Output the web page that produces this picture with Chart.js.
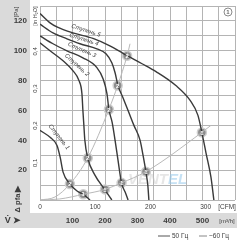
<!DOCTYPE html>
<html lang="ru">
<head>
  <meta charset="UTF-8" />
  <title>Fan curve</title>
  <script src="https://cdn.jsdelivr.net/npm/chart.js"></script>
  <style>
    body { margin: 0; padding: 0; background: #fff; }
    #wrap { position: relative; width: 244px; height: 250px; }
  </style>
</head>
<body>
  <div id="wrap"><canvas id="fanChart"></canvas></div>

  <script>
    // ---- data: [flow m³/h, static pressure Pa] ----
    const stage5 = [[0,125],[31,118.7],[52,116],[101,112],[163,108.3],[215,103.3],[252,98.7],[268,96.7],
                    [314,91.3],[357,86],[418,76.7],[462,66.7],[486,56.7],[498,45.3],[511,31.3],[526,15.3],[535,0]];
    const stage4 = [[0,117.8],[40,112],[83,108],[123,104.7],[175,101.3],[203,98],[221,92],[231,85.3],
                    [240,76.7],[255,68.7],[271,60],[289,50],[308,40],[317,30],[326,18.7],[332,9.3],[335,0]];
    const stage3 = [[0,110],[40,104.7],[83,100],[132,95.3],[175,88.7],[194,81.3],[206,71.3],[212,60.7],
                    [222,52],[231,40],[240,26.7],[251,11.3],[262,5.3],[271,0]];
    const stage2 = [[0,105.3],[31,100],[71,93.3],[101,86.7],[120,80],[129,71.3],[132,60],[135,50],
                    [138,40],[147,28],[169,16.7],[200,6.7],[221,0]];
    const stage1 = [[0,46.7],[31,42],[52,36.7],[62,28.7],[71,18.7],[92,10.7],[114,6],[133,3.8],[154,0]];

    // system (resistance) lines
    const system2 = [[0,0],[46,2],[92,10.7],[147,28.2],[212,60.7],[239,76.7],[268,96.7],[277,104.7]];
    const system1 = [[0,0],[61,0.7],[133,3.8],[200,7.1],[251,11.5],[326,19],[498,45.3],[526,50]];

    // operating points
    const points2 = [[268,96.7],[239,76.7],[212,60.7],[147,28.2],[92,10.7]];
    const points1 = [[498,45.3],[326,19],[251,11.5],[200,7.1],[133,3.8]];

    // tick labels
    const paTicks = [20, 40, 60, 80, 100, 120];
    const inH2OTicks = [0.1, 0.2, 0.3, 0.4];
    const m3hTicks = [100, 200, 300, 400, 500];
    const cfmTicks = [0, 100, 200, 300];

    const PA_PER_INH2O = 249.09;
    const M3H_PER_CFM = 1.699;

    const stageNames = ['Ступень 5', 'Ступень 4', 'Ступень 3', 'Ступень 2', 'Ступень 1'];

    const xy = arr => arr.map(p => ({ x: p[0], y: p[1] }));

    function curve(data, color, width) {
      return {
        data: xy(data), showLine: true, borderColor: color, borderWidth: width,
        pointRadius: 0, cubicInterpolationMode: 'monotone', fill: false
      };
    }
    function markers(data, digit) {
      return {
        data: xy(data), showLine: false, pointRadius: 4.5, pointBackgroundColor: '#8d8d8d',
        pointBorderColor: '#cfcfcf', pointBorderWidth: 1.5, digit: digit
      };
    }

    // ---- drawing helpers for the frame, labels and digits ----
    const frame = {
      id: 'frame',
      beforeDraw(chart) {
        const { ctx, chartArea: a } = chart;
        ctx.save();
        ctx.fillStyle = '#dadada';
        ctx.fillRect(0, 0, 30, 228);
        ctx.fillRect(0, 213, 237, 15);
        ctx.fillStyle = '#fff';
        ctx.fillRect(a.left, a.top, a.width, a.height);
        ctx.restore();
      },
      beforeDatasetsDraw(chart) {
        const { ctx } = chart;
        ctx.save();
        ctx.font = 'italic bold 15px "Liberation Sans"';
        ctx.textBaseline = 'alphabetic';
        ctx.fillStyle = 'rgba(200,200,200,0.45)';
        ctx.fillText('VENT', 128, 184);
        const w = ctx.measureText('VENT').width;
        ctx.fillStyle = 'rgba(150,200,235,0.55)';
        ctx.fillText('EL', 128 + w, 184);
        ctx.restore();
      },
      afterDraw(chart) {
        const { ctx, scales: { x, y } } = chart;
        ctx.save();
        ctx.fillStyle = '#3c3c3c';

        // pressure labels in the grey band
        ctx.font = 'bold 8px "Liberation Sans"';
        ctx.textAlign = 'right';
        ctx.textBaseline = 'middle';
        paTicks.forEach(v => ctx.fillText(String(v), 27, y.getPixelForValue(v)));

        // flow labels in the grey band
        ctx.textAlign = 'center';
        m3hTicks.forEach(v => ctx.fillText(String(v), x.getPixelForValue(v), 221));
        ctx.font = '6px "Liberation Sans"';
        ctx.fillText('[m³/h]', 227, 221);
        ctx.font = 'bold 9px "Liberation Sans"';
        ctx.fillText('V̇ ➤', 13, 221);

        // CFM labels under the plot
        ctx.font = '6.5px "Liberation Sans"';
        cfmTicks.forEach(v => ctx.fillText(String(v), x.getPixelForValue(v * M3H_PER_CFM), 207));
        ctx.fillText('[CFM]', 227, 207);

        // rotated labels
        const rot = (txt, px, py, font) => {
          ctx.save();
          ctx.translate(px, py);
          ctx.rotate(-Math.PI / 2);
          ctx.font = font;
          ctx.textAlign = 'center';
          ctx.textBaseline = 'middle';
          ctx.fillText(txt, 0, 0);
          ctx.restore();
        };
        inH2OTicks.forEach(v =>
          rot(String(v).replace('.', ','), 35, y.getPixelForValue(v * PA_PER_INH2O), '6px "Liberation Sans"'));
        rot('[in H₂O]', 35, 16, '5.5px "Liberation Sans"');
        rot('[Pa]', 16, 12, '6px "Liberation Sans"');
        rot('Δ pfa ▶', 18, 199, 'bold 7.5px "Liberation Sans"');

        // stage names along the curves
        const names = [[86, 30.5, 18], [84, 39.5, 18], [82, 50, 24], [77, 65, 42], [59, 137, 52]];
        ctx.font = 'italic 6px "Liberation Sans"';
        names.forEach((n, i) => {
          ctx.save();
          ctx.translate(n[0], n[1]);
          ctx.rotate(n[2] * Math.PI / 180);
          ctx.textAlign = 'center';
          ctx.textBaseline = 'middle';
          ctx.fillText(stageNames[i], 0, 0);
          ctx.restore();
        });

        // digits inside the operating point markers
        ctx.font = 'bold 6px "Liberation Sans"';
        ctx.fillStyle = '#fff';
        ctx.textAlign = 'center';
        ctx.textBaseline = 'middle';
        chart.data.datasets.forEach((ds, i) => {
          if (!ds.digit) return;
          chart.getDatasetMeta(i).data.forEach(el => ctx.fillText(ds.digit, el.x, el.y + 0.5));
        });

        // circled 1 in the corner
        ctx.strokeStyle = '#8a8a8a';
        ctx.lineWidth = 1;
        ctx.beginPath();
        ctx.arc(228, 12, 4, 0, Math.PI * 2);
        ctx.stroke();
        ctx.fillStyle = '#6a6a6a';
        ctx.fillText('1', 228, 12.5);

        // legend
        ctx.strokeStyle = '#555';
        ctx.beginPath(); ctx.moveTo(158, 236); ctx.lineTo(170, 236); ctx.stroke();
        ctx.strokeStyle = '#888';
        ctx.beginPath(); ctx.moveTo(199, 236); ctx.lineTo(207, 236); ctx.stroke();
        ctx.fillStyle = '#3c3c3c';
        ctx.font = '6.5px "Liberation Sans"';
        ctx.textAlign = 'left';
        ctx.fillText('50 Гц', 172, 236.5);
        ctx.fillText('~60 Гц', 209, 236.5);
        ctx.restore();
      }
    };

    new Chart(document.getElementById('fanChart'), {
      type: 'scatter',
      data: {
        datasets: [
          curve(system2, '#b9b9b9', 1),
          curve(system1, '#b9b9b9', 1),
          curve(stage5, '#3a3a3a', 1.4),
          curve(stage4, '#3a3a3a', 1.4),
          curve(stage3, '#3a3a3a', 1.4),
          curve(stage2, '#3a3a3a', 1.4),
          curve(stage1, '#3a3a3a', 1.4),
          markers(points2, '2'),
          markers(points1, '1')
        ]
      },
      options: {
        responsive: true,
        maintainAspectRatio: false,
        animation: false,
        layout: { padding: { left: 40, right: 9, top: 5, bottom: 50 } },
        plugins: { legend: { display: false }, tooltip: { enabled: false } },
        scales: {
          x: {
            type: 'linear', min: 0, max: 600,
            ticks: { display: false, stepSize: 50 },
            grid: { color: '#b4b4b4', lineWidth: 1, drawTicks: false },
            border: { display: false }
          },
          y: {
            type: 'linear', min: 0, max: 130,
            ticks: { display: false, stepSize: 10 },
            grid: { color: '#b4b4b4', lineWidth: 1, drawTicks: false },
            border: { display: false }
          }
        }
      },
      plugins: [frame]
    });
  </script>
</body>
</html>
